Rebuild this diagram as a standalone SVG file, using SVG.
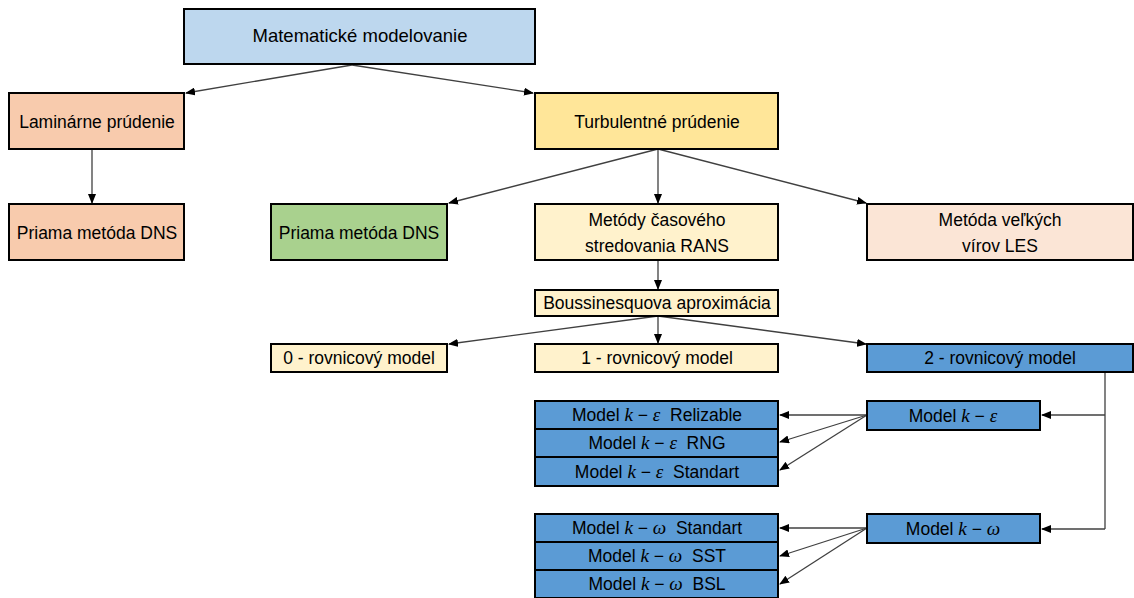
<svg xmlns="http://www.w3.org/2000/svg" width="1134" height="598" viewBox="0 0 1134 598">
<defs>
<marker id="ah" markerWidth="10" markerHeight="8" refX="9" refY="4" orient="auto" markerUnits="userSpaceOnUse">
<path d="M0,0 L10,4 L0,8 Z" fill="#000"/>
</marker>
<style>
rect{stroke:#000;stroke-width:2}
text{font-family:"Liberation Sans",Arial,sans-serif;font-size:17.5px;fill:#000;text-anchor:middle;white-space:pre}
.m{font-family:"Liberation Serif","DejaVu Serif",serif;font-style:italic;font-size:19px}
.c line,.c path{stroke:#404040;stroke-width:1.3;fill:none}
.a{marker-end:url(#ah)}
.blue{fill:#5B9BD5}
.cream{fill:#FFF2CC}
</style>
</defs>
<rect width="1134" height="598" fill="#fff" style="stroke:none"/>
<g class="c" id="connectors">
<line class="a" x1="352" y1="65" x2="186" y2="93"/>
<line class="a" x1="352" y1="65" x2="533" y2="93"/>
<line class="a" x1="92" y1="149" x2="92" y2="203"/>
<line class="a" x1="658" y1="149" x2="449" y2="203"/>
<line class="a" x1="658" y1="149" x2="658" y2="203"/>
<line class="a" x1="658" y1="149" x2="866" y2="203"/>
<line class="a" x1="658" y1="260" x2="658" y2="289"/>
<line class="a" x1="658" y1="316" x2="449" y2="344"/>
<line class="a" x1="658" y1="316" x2="658" y2="343"/>
<line class="a" x1="658" y1="316" x2="866" y2="344"/>
<path d="M1105,372 V529"/>
<line class="a" x1="1105" y1="415" x2="1042" y2="415"/>
<line class="a" x1="1105" y1="529" x2="1042" y2="529"/>
<line class="a" x1="867" y1="415" x2="780" y2="415"/>
<line class="a" x1="867" y1="415" x2="780" y2="442"/>
<line class="a" x1="867" y1="415" x2="780" y2="470"/>
<line class="a" x1="867" y1="528" x2="780" y2="528"/>
<line class="a" x1="867" y1="528" x2="780" y2="556"/>
<line class="a" x1="867" y1="528" x2="780" y2="584"/>
</g>
<g id="n-mat"><rect x="184" y="9" width="351" height="55" fill="#BDD7EE"/><text x="360" y="42" style="font-size:18.5px">Matematické modelovanie</text></g>
<g id="n-lam"><rect x="9" y="93" width="175" height="56" fill="#F8CBAD"/><text x="97" y="128">Laminárne prúdenie</text></g>
<g id="n-turb"><rect x="535" y="93" width="243" height="56" fill="#FFE699"/><text x="657" y="128">Turbulentné prúdenie</text></g>
<g id="n-dns1"><rect x="9" y="204" width="175" height="56" fill="#F8CBAD"/><text x="97" y="239">Priama metóda DNS</text></g>
<g id="n-dns2"><rect x="271" y="204" width="176" height="56" fill="#A9D18E"/><text x="359" y="239">Priama metóda DNS</text></g>
<g id="n-rans"><rect x="535" y="204" width="243" height="56" class="cream"/><text x="657" y="226">Metódy časového</text><text x="657" y="252">stredovania RANS</text></g>
<g id="n-les"><rect x="867" y="204" width="266" height="56" fill="#FBE5D6"/><text x="1000" y="226">Metóda veľkých</text><text x="1000" y="252">vírov LES</text></g>
<g id="n-bous"><rect x="535" y="290" width="243" height="26" class="cream"/><text x="657" y="309">Boussinesquova aproximácia</text></g>
<g id="n-r0"><rect x="271" y="344" width="176" height="28" class="cream"/><text x="359" y="364">0 - rovnicový model</text></g>
<g id="n-r1"><rect x="535" y="344" width="243" height="28" class="cream"/><text x="657" y="364">1 - rovnicový model</text></g>
<g id="n-r2"><rect x="867" y="344" width="266" height="28" class="blue"/><text x="1000" y="364">2 - rovnicový model</text></g>
<g id="n-ke"><rect x="867" y="401" width="173" height="29" class="blue"/><text x="953" y="422">Model <tspan class="m">k</tspan> − <tspan class="m">ε</tspan></text></g>
<g id="n-ke-rel"><rect x="535" y="401" width="243" height="28" class="blue"/><text x="657" y="421">Model <tspan class="m">k</tspan> − <tspan class="m">ε</tspan>  Relizable</text></g>
<g id="n-ke-rng"><rect x="535" y="429" width="243" height="28" class="blue"/><text x="657" y="449">Model <tspan class="m">k</tspan> − <tspan class="m">ε</tspan>  RNG</text></g>
<g id="n-ke-std"><rect x="535" y="457" width="243" height="29" class="blue"/><text x="657" y="478">Model <tspan class="m">k</tspan> − <tspan class="m">ε</tspan>  Standart</text></g>
<g id="n-kw"><rect x="867" y="514" width="173" height="29" class="blue"/><text x="953" y="535">Model <tspan class="m">k</tspan> − <tspan class="m">ω</tspan></text></g>
<g id="n-kw-std"><rect x="535" y="514" width="243" height="28" class="blue"/><text x="657" y="534">Model <tspan class="m">k</tspan> − <tspan class="m">ω</tspan>  Standart</text></g>
<g id="n-kw-sst"><rect x="535" y="542" width="243" height="28" class="blue"/><text x="657" y="562">Model <tspan class="m">k</tspan> − <tspan class="m">ω</tspan>  SST</text></g>
<g id="n-kw-bsl"><rect x="535" y="570" width="243" height="28" class="blue"/><text x="657" y="590">Model <tspan class="m">k</tspan> − <tspan class="m">ω</tspan>  BSL</text></g>
</svg>
